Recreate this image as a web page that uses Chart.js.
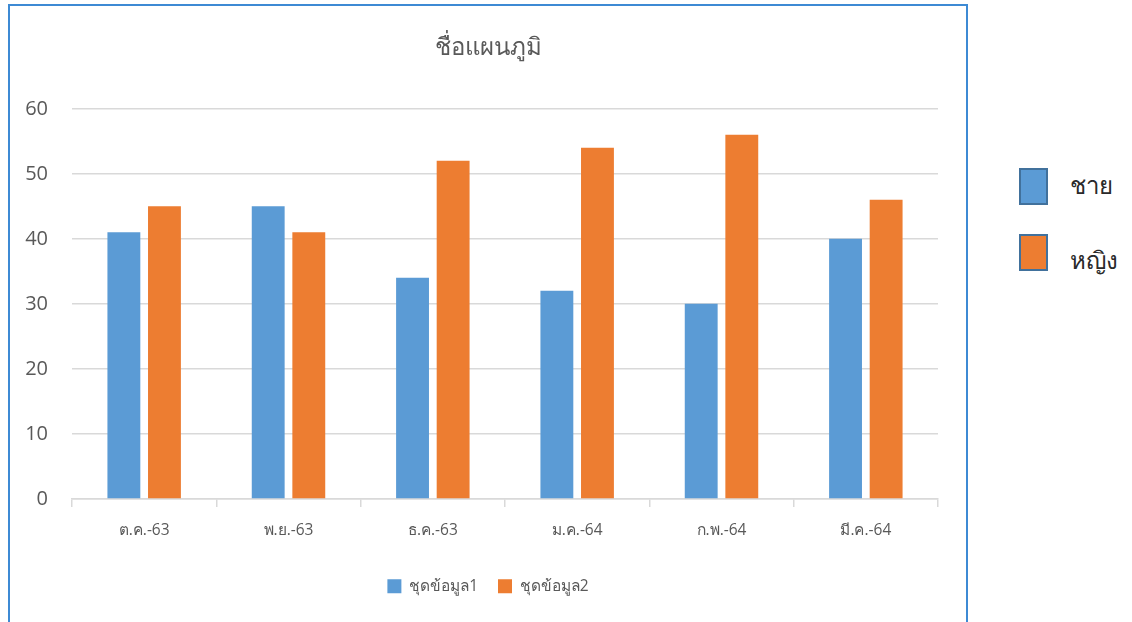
<!DOCTYPE html>
<html>
<head>
<meta charset="utf-8">
<script src="https://cdn.jsdelivr.net/npm/chart.js@4.4.1/dist/chart.umd.min.js"></script>
<style>
  html, body { margin: 0; padding: 0; background: #fff; width: 1132px; height: 622px; overflow: hidden; }
  #frame { position: absolute; left: 8px; top: 4px; width: 956px; height: 640px; border: 2px solid #3d8ad4; border-bottom: none; }
  #wrap { position: absolute; left: 10px; top: 6px; width: 956px; height: 616px; }
  .key { position: absolute; left: 1019px; width: 25px; height: 33px; border: 2px solid #41719c; }
  .keytext { position: absolute; left: 1070px; font-family: "Open Sans", "Liberation Sans", sans-serif; font-size: 24px; font-weight: 300; color: #2a2a2a; line-height: 30px; }
</style>
</head>
<body>
<div id="frame"></div>
<div id="wrap"><canvas id="c" width="956" height="616"></canvas></div>

<div class="key" style="top:168px;background:#5b9bd5"></div>
<div class="keytext" style="top:170px">ชาย</div>
<div class="key" style="top:234px;background:#ed7d31"></div>
<div class="keytext" style="top:245px">หญิง</div>

<script>
const categories = ['ต.ค.-63', 'พ.ย.-63', 'ธ.ค.-63', 'ม.ค.-64', 'ก.พ.-64', 'มี.ค.-64'];
const series1 = [41, 45, 34, 32, 30, 40];
const series2 = [45, 41, 52, 54, 56, 46];
const seriesNames = ['ชุดข้อมูล1', 'ชุดข้อมูล2'];
const chartTitle = 'ชื่อแผนภูมิ';

const textColor = '#595959';
const gridColor = '#d9d9d9';
const fontFamily = '"Open Sans", "Liberation Sans", "DejaVu Sans", sans-serif';

new Chart(document.getElementById('c'), {
  type: 'bar',
  data: {
    labels: categories,
    datasets: [
      { label: seriesNames[0], data: series1, backgroundColor: '#5b9bd5' },
      { label: seriesNames[1], data: series2, backgroundColor: '#ed7d31' }
    ]
  },
  options: {
    responsive: false,
    animation: false,
    devicePixelRatio: 1,
    categoryPercentage: 0.5625,
    barPercentage: 0.81,
    layout: { padding: { left: 0, right: 0, top: 0, bottom: 18 } },
    plugins: {
      title: {
        display: true,
        text: chartTitle,
        color: textColor,
        font: { family: fontFamily, size: 24, weight: 'normal', lineHeight: 1.2 },
        padding: { top: 28, bottom: 46 }
      },
      legend: {
        position: 'bottom',
        labels: {
          color: textColor,
          boxWidth: 14,
          boxHeight: 14,
          padding: 20,
          font: { family: fontFamily, size: 15.5 }
        }
      },
      tooltip: { enabled: false }
    },
    scales: {
      x: {
        afterFit: (scale) => { scale.height += 5; },
        grid: { offset: true, drawOnChartArea: false, drawTicks: true, tickLength: 8, color: gridColor, lineWidth: 1.5 },
        border: { display: true, color: gridColor, width: 1.5 },
        ticks: { color: textColor, padding: 14, font: { family: fontFamily, size: 15.5 } }
      },
      y: {
        min: 0,
        max: 60,
        afterFit: (scale) => { scale.width = 62; },
        ticks: { stepSize: 10, color: textColor, padding: 24, font: { family: fontFamily, size: 20 } },
        grid: { drawTicks: false, color: gridColor, lineWidth: 1.5 },
        border: { display: false }
      },
      // empty right-hand axis that only reserves the margin beside the plot
      gutter: {
        type: 'linear',
        position: 'right',
        afterFit: (scale) => { scale.width = 28; },
        ticks: { display: false },
        grid: { display: false, drawTicks: false },
        border: { display: false }
      }
    }
  }
});
</script>
</body>
</html>
